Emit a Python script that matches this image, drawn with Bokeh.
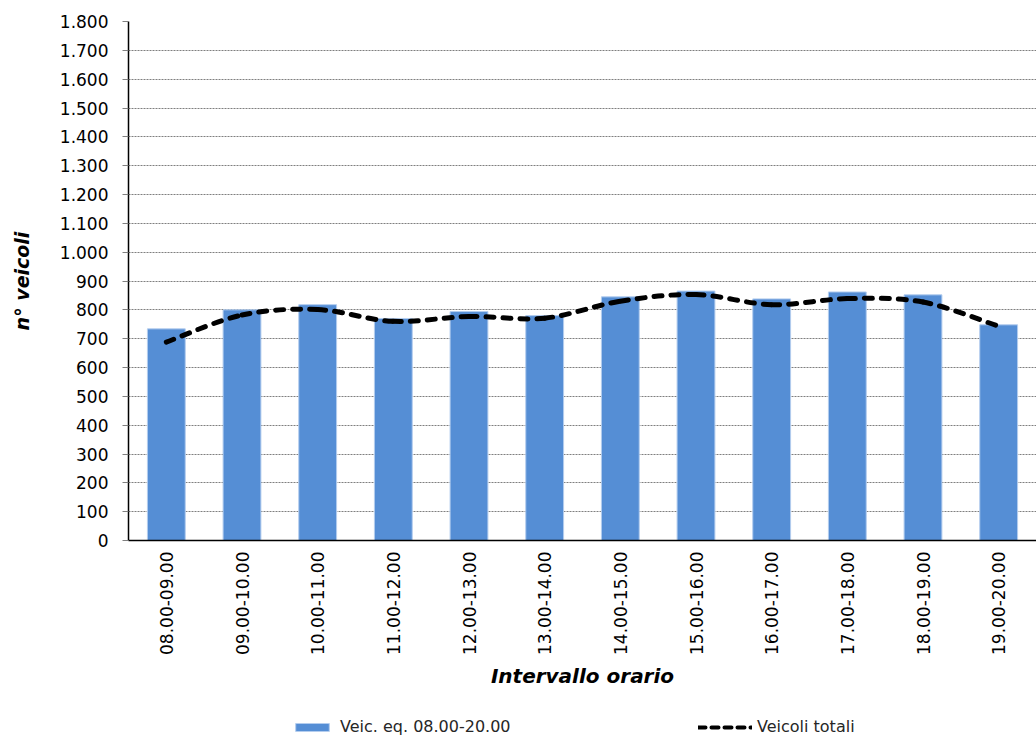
from bokeh.plotting import figure
from bokeh.models import Range1d, FixedTicker, Legend, LegendItem
from bokeh.layouts import column
from bokeh.embed import file_html
from bokeh.resources import INLINE
import math

categories = ["08.00-09.00", "09.00-10.00", "10.00-11.00", "11.00-12.00",
              "12.00-13.00", "13.00-14.00", "14.00-15.00", "15.00-16.00",
              "16.00-17.00", "17.00-18.00", "18.00-19.00", "19.00-20.00"]
veic_eq = [734, 800, 818, 770, 794, 780, 845, 865, 838, 862, 852, 748]
veicoli_totali = [688, 782, 801, 760, 777, 771, 830, 853, 818, 839, 827, 743]
y_ticks = list(range(0, 1900, 100))
y_tick_labels = {t: (f"{t // 1000}.{t % 1000:03d}" if t >= 1000 else str(t)) for t in y_ticks}

FONT = "DejaVu Sans"
BAR_FILL = "#558ED5"
BAR_LINE = "#B4CDEE"

p = figure(width=1036, height=705, output_backend="svg", toolbar_location=None,
           x_range=Range1d(0, len(categories)), y_range=Range1d(0, 1800),
           min_border_left=128, min_border_right=0, min_border_top=21,
           min_border_bottom=165)
p.outline_line_color = None
p.background_fill_color = "white"
p.border_fill_color = "white"

xs = [i + 0.5 for i in range(len(categories))]
bars = p.vbar(x=xs, top=veic_eq, width=0.5, bottom=0,
              fill_color=BAR_FILL, line_color=BAR_LINE, line_width=1)

# smoothed line (Bezier segments, control points derived from data)
x0, y0, x1, y1, cx0, cy0, cx1, cy1 = [], [], [], [], [], [], [], []
n = len(veicoli_totali)
for i in range(n - 1):
    xa, ya = xs[i], veicoli_totali[i]
    xb, yb = xs[i + 1], veicoli_totali[i + 1]
    xp, yp = (xs[i - 1], veicoli_totali[i - 1]) if i > 0 else (xa, ya)
    xn, yn = (xs[i + 2], veicoli_totali[i + 2]) if i + 2 < n else (xb, yb)
    x0.append(xa); y0.append(ya); x1.append(xb); y1.append(yb)
    cx0.append(xa + (xb - xp) / 6); cy0.append(ya + (yb - yp) / 6)
    cx1.append(xb - (xn - xa) / 6); cy1.append(yb - (yn - ya) / 6)
p.bezier(x0=x0, y0=y0, x1=x1, y1=y1, cx0=cx0, cy0=cy0, cx1=cx1, cy1=cy1,
         line_color="black", line_width=5, line_dash="8 9", line_cap="round")

# axes
p.xaxis.ticker = FixedTicker(ticks=xs)
p.xaxis.major_label_overrides = {x: c for x, c in zip(xs, categories)}
p.xaxis.major_label_orientation = math.pi / 2
p.xaxis.major_tick_line_color = None
p.xaxis.minor_tick_line_color = None
p.xaxis.axis_line_color = "black"
p.xaxis.axis_line_width = 1.5
p.xaxis.major_label_text_font = FONT
p.xaxis.major_label_text_font_size = "17px"
p.xaxis.major_label_text_color = "black"
p.xaxis.major_label_standoff = 5
p.xaxis.axis_label = "Intervallo orario"
p.xaxis.axis_label_text_font = FONT
p.xaxis.axis_label_text_font_size = "20px"
p.xaxis.axis_label_text_font_style = "bold italic"
p.xaxis.axis_label_text_color = "black"
p.xaxis.axis_label_standoff = 6

p.yaxis.ticker = FixedTicker(ticks=y_ticks)
p.yaxis.major_label_overrides = y_tick_labels
p.yaxis.minor_tick_line_color = None
p.yaxis.major_tick_out = 6
p.yaxis.major_tick_in = 0
p.yaxis.major_tick_line_color = "#808080"
p.yaxis.axis_line_color = "black"
p.yaxis.axis_line_width = 1.5
p.yaxis.major_label_text_font = FONT
p.yaxis.major_label_text_font_size = "17px"
p.yaxis.major_label_text_color = "black"
p.yaxis.major_label_standoff = 14
p.yaxis.axis_label = "n° veicoli"
p.yaxis.axis_label_text_font = FONT
p.yaxis.axis_label_text_font_size = "19px"
p.yaxis.axis_label_text_font_style = "bold italic"
p.yaxis.axis_label_text_color = "black"
p.yaxis.axis_label_standoff = 24

p.xgrid.grid_line_color = None
p.ygrid.grid_line_color = "#7f7f7f"
p.ygrid.grid_line_dash = "2 1"
p.ygrid.grid_line_width = 1

# legend strip below the chart (its frame is aligned with the chart's frame)
lf = figure(width=1036, height=30, output_backend="svg", toolbar_location=None,
            x_range=Range1d(0, 1), y_range=Range1d(0, 1),
            min_border_left=0, min_border_right=0, min_border_top=0,
            min_border_bottom=0)
lf.axis.visible = False
lf.grid.visible = False
lf.outline_line_color = None
lf.border_fill_color = "white"
leg_bar = lf.vbar(x=[0.5], top=[0.5], width=0.5, fill_color=BAR_FILL,
                  line_color=BAR_LINE, visible=False)
leg_line = lf.line(x=[0.2, 0.8], y=[0.5, 0.5], line_color="black", line_width=4,
                   line_dash="7 6", line_cap="round", visible=False)

common = dict(padding=0, margin=0, border_line_color=None, background_fill_alpha=0,
              label_text_font=FONT, label_height=18, glyph_height=10,
              inactive_fill_alpha=0,
              label_text_font_size="16px", label_text_color="#262626")
leg1 = Legend(items=[LegendItem(label="Veic. eq. 08.00-20.00", renderers=[leg_bar])],
              location=(163, -1), glyph_width=42, label_standoff=7, **common)
leg2 = Legend(items=[LegendItem(label="Veicoli totali", renderers=[leg_line])],
              location=(570, -1), glyph_width=54, label_standoff=5, **common)
lf.add_layout(leg1, "center")
lf.add_layout(leg2, "center")

layout = column(p, lf, spacing=0)
open("out.html", "w").write(file_html(layout, INLINE))
